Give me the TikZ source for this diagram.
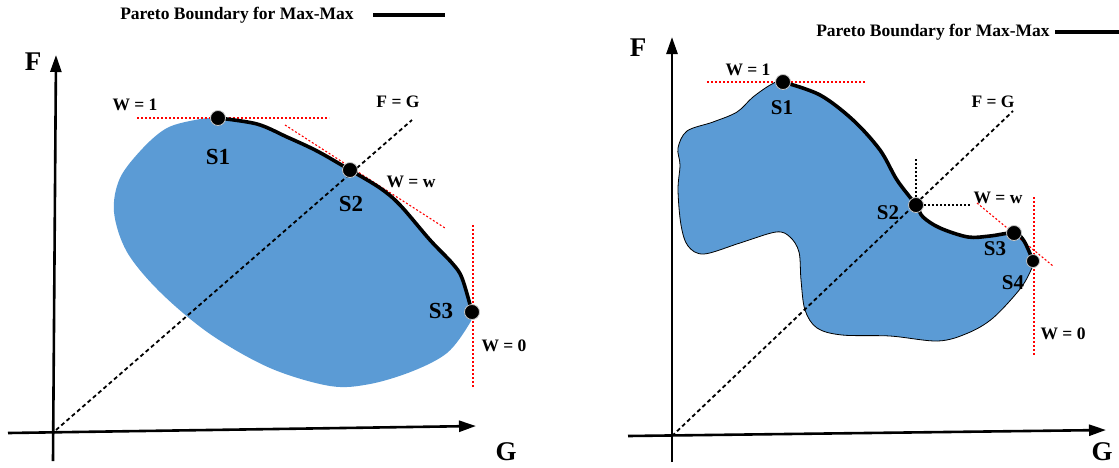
\documentclass[tikz,border=0pt]{standalone}
\usepackage{fontspec}
\setmainfont{Liberation Serif}
\usetikzlibrary{arrows.meta}
\definecolor{blobblue}{HTML}{5B9BD5}
\tikzset{
  axisline/.style={line width=2.6pt,-{Triangle[length=17pt,width=11pt]}},
  pareto/.style={line width=3.6pt,line join=round,line cap=round},
  fg/.style={line width=1.8pt,dash pattern=on 4pt off 3pt},
  reddot/.style={red,line width=1.1pt,dash pattern=on 2pt off 2pt},
  blackdot/.style={black,line width=1.1pt,dash pattern=on 2pt off 2pt},
  ptdot/.style={circle,fill=black,draw=gray!45,line width=0.8pt,minimum size=15pt,inner sep=0pt},
  biglab/.style={font=\bfseries\fontsize{27}{27}\selectfont,inner sep=0pt},
  slab/.style={font=\bfseries\fontsize{23}{23}\selectfont,inner sep=0pt},
  slabr/.style={font=\bfseries\fontsize{21}{21}\selectfont,inner sep=0pt},
  wlab/.style={font=\bfseries\fontsize{17.5}{17.5}\selectfont,inner sep=0pt},
  leglab/.style={font=\bfseries\fontsize{17.5}{17.5}\selectfont,inner sep=0pt},
}
\begin{document}
\begin{tikzpicture}[x=1pt,y=-1pt]
\useasboundingbox (0,0) rectangle (1119,467);
% ---------------- LEFT PANEL ----------------
\fill[blobblue] plot[smooth cycle,tension=0.55] coordinates {
 (218,118) (257,124) (287,137) (317,151) (350,170) (380,188) (400,205) (430,240) (452,263) (462,278) (472,312)
 (468,326) (447,353) (413,371) (370,384) (330,386) (270,368) (210,334) (160,292) (127,252) (114,212) (120,178) (143,148) (167,128) (195,120)};
% axes
\coordinate (yb1) at (53,461);
\coordinate (yt1) at (56,55);
\coordinate (xl1) at (8,433);
\coordinate (xr1) at (476,426);
\coordinate (o1) at (56,430);
\coordinate (fg1) at (412,120);
\draw[axisline] (yb1) -- (yt1);
\draw[axisline] (xl1) -- (xr1);
\draw[fg] (o1) -- (fg1);
% red tangent lines
\coordinate (r1a) at (137,118); \coordinate (r1b) at (329,118);
\coordinate (r2a) at (285,125); \coordinate (r2b) at (445,228);
\coordinate (r3a) at (473,225); \coordinate (r3b) at (473,387);
\draw[reddot] (r1a) -- (r1b);
\draw[reddot] (r2a) -- (r2b);
\draw[reddot] (r3a) -- (r3b);
% pareto boundary
\draw[pareto] plot[smooth,tension=0.55] coordinates {
 (218,118) (257,124) (287,137) (317,151) (350,170) (380,188) (400,205) (430,240) (452,263) (462,278) (472,312)};
\node[ptdot] (s1) at (218,118) {};
\node[ptdot] (s2) at (350,170) {};
\node[ptdot] (s3) at (472,312) {};
% labels
\node[biglab] (lF) at (33,62) {F};
\node[biglab] (lG) at (506,452) {G};
\node[slab] (ls1) at (218,157) {S1};
\node[slab] (ls2) at (351,204) {S2};
\node[slab] (ls3) at (441,311) {S3};
\node[wlab] (lw1) at (135,105) {W = 1};
\node[wlab] (lfg) at (398,102) {F = G};
\node[wlab] (lww) at (411,182) {W = w};
\node[wlab] (lw0) at (504,346) {W = 0};
\node[leglab] (leg1) at (237,15) {Pareto Boundary for Max-Max};
\coordinate (lg1a) at (373,15); \coordinate (lg1b) at (445,15);
\draw[pareto,line cap=butt] (lg1a) -- (lg1b);
% ---------------- RIGHT PANEL ----------------
\filldraw[fill=blobblue,draw=black,line width=0.8pt] plot[smooth cycle,tension=0.55] coordinates {
 (783,82) (820,95) (853,120) (880,150) (897,180) (916,205) (923,217) (940,228) (968,237) (990,236) (1014,233) (1024,241) (1033,261)
 (1031,270) (1020,289) (993,318) (968,333) (938,341) (890,336) (842,335) (817,328) (805,310) (801,280) (799,252) (790,237) (776,232) (740,243) (704,254) (688,246) (681,225) (678,190) (680,165) (678,148) (687,131) (713,122) (737,112) (753,97) (772,84)};
\coordinate (yb2) at (672,462);
\coordinate (yt2) at (672,37);
\coordinate (xl2) at (628,436);
\coordinate (xr2) at (1106,430);
\coordinate (o2) at (672,436);
\coordinate (fg2) at (1013,111);
\draw[axisline] (yb2) -- (yt2);
\draw[axisline] (xl2) -- (xr2);
\draw[fg] (o2) -- (fg2);
% red tangent lines
\coordinate (q1a) at (707,82); \coordinate (q1b) at (865,82);
\coordinate (q2a) at (977,203); \coordinate (q2b) at (1053,266);
\coordinate (q3a) at (1034,197); \coordinate (q3b) at (1034,356);
\draw[reddot] (q1a) -- (q1b);
\draw[reddot] (q2a) -- (q2b);
\draw[reddot] (q3a) -- (q3b);
% pareto boundary
\draw[pareto] plot[smooth,tension=0.55] coordinates {
 (783,82) (820,95) (853,120) (880,150) (897,180) (916,205) (923,217) (940,228) (968,237) (990,236) (1014,233) (1024,241) (1033,261)};
\node[ptdot] (t1) at (783,82) {};
\node[ptdot] (t2) at (916,205) {};
\node[ptdot] (t3) at (1014,233) {};
\node[ptdot,minimum size=13pt] (t4) at (1033,261) {};
\coordinate (v2) at (916,158);
\coordinate (h2) at (970,205);
\draw[blackdot] (t2.center) -- (v2);
\draw[blackdot] (t2.center) -- (h2);
% labels
\node[biglab] (rF) at (638,48) {F};
\node[biglab] (rG) at (1102,452) {G};
\node[slabr] (rs1) at (782,108) {S1};
\node[slabr] (rs2) at (888,213) {S2};
\node[slabr] (rs3) at (995,249) {S3};
\node[slabr] (rs4) at (1013,283) {S4};
\node[wlab] (rw1) at (748,70) {W = 1};
\node[wlab] (rfg) at (993,102) {F = G};
\node[wlab] (rww) at (998,198) {W = w};
\node[wlab] (rw0) at (1063,334) {W = 0};
\node[leglab] (leg2) at (933,32) {Pareto Boundary for Max-Max};
\coordinate (lg2a) at (1055,32); \coordinate (lg2b) at (1119,32);
\draw[pareto,line cap=butt] (lg2a) -- (lg2b);
\end{tikzpicture}
\end{document}
